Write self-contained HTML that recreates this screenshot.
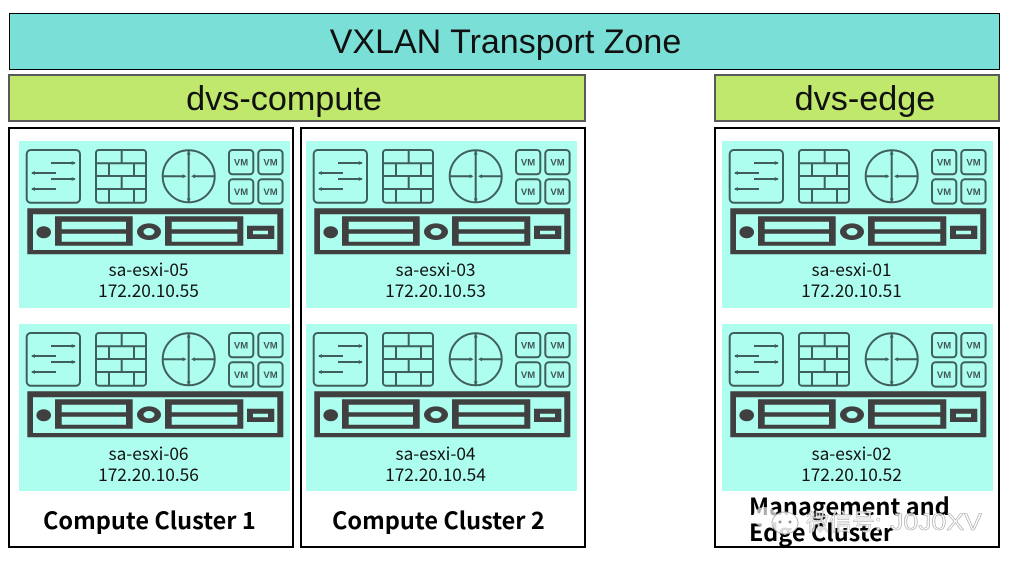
<!DOCTYPE html>
<html><head><meta charset="utf-8">
<style>
html,body{margin:0;padding:0;background:#fff;width:1013px;height:565px;overflow:hidden}
svg{display:block}
.t{font-family:"Noto Sans CJK SC","Liberation Sans",sans-serif;font-size:17.3px;fill:#111;text-anchor:middle}
.h{font-family:"Liberation Sans",sans-serif;fill:#111;text-anchor:middle}
.b{font-family:"Noto Sans CJK SC","Liberation Sans",sans-serif;font-weight:700;font-size:23.5px;fill:#000}
.v{font-family:"Liberation Sans",sans-serif;font-weight:700;font-size:9.5px;fill:#3f5757;text-anchor:middle}
</style></head><body>
<svg width="1013" height="565" viewBox="0 0 1013 565" xmlns="http://www.w3.org/2000/svg">
<defs>
<symbol id="host" width="290" height="310" viewBox="0 0 290 310" overflow="visible">
<rect x="19" y="141" width="271" height="167" fill="#aefeef"/>
<g fill="none" stroke="#3f5f5c" stroke-width="2">
<rect x="26.7" y="150" width="53.3" height="52.7" rx="4"/>
<path d="M51 163H75M32 173H56M51 179H75M32 189H56"/>
<rect x="96" y="150" width="50" height="52.7" rx="3"/>
<path d="M96 163.3H146M96 176H146M96 189H146M121.7 150V163.3M109 163.3V176M134 163.3V176M121.7 176V189M109 189V202.7M134 189V202.7"/>
<circle cx="188.7" cy="176.3" r="26"/>
<path d="M188.7 151V202M163 176.3H185M214 176.3H193"/>
<rect x="229" y="150" width="24.3" height="24.3" rx="3.5"/>
<rect x="258.3" y="150" width="24.3" height="24.3" rx="3.5"/>
<rect x="229" y="179.3" width="24.3" height="24.3" rx="3.5"/>
<rect x="258.3" y="179.3" width="24.3" height="24.3" rx="3.5"/>
</g>
<g fill="#3f5f5c">
<path d="M75.7 163l-4-2v4zM31 173l4-2v4zM75.7 179l-4-2v4zM31 189l4-2v4z"/>
<path d="M188.7 150.5l-2 4h4zM188.7 202.5l-2-4h4zM186.5 176.3l-4-2v4zM191 176.3l4-2v4z"/>
</g>
<path fill="#404040" fill-rule="evenodd" d="M27.3 208.3H283.3V254.3H27.3ZM33 214.3V250H277.3V214.3Z"/>
<ellipse cx="43.7" cy="232.3" rx="7.3" ry="6" fill="#404040"/>
<path fill="#404040" fill-rule="evenodd" d="M55 216.3H132.7V245.7H55ZM61.7 221.7V229.3H126V221.7ZM61.7 233.7V241.7H126V233.7Z"/>
<ellipse cx="149" cy="231.7" rx="12" ry="8.3" fill="#404040"/>
<ellipse cx="149" cy="231.7" rx="5.5" ry="3.7" fill="#aefeef"/>
<path fill="#404040" fill-rule="evenodd" d="M165 216.3H243.3V245.7H165ZM171.7 221.7V229.3H237.3V221.7ZM171.7 233.7V241.7H237.3V233.7Z"/>
<path fill="#404040" fill-rule="evenodd" d="M247 225.7H274.3V239H247ZM253 230.7V234.3H268V230.7Z"/>
</symbol>
</defs>

<rect x="9.5" y="13.5" width="990" height="56" fill="#7adfd6" stroke="#000" stroke-width="1"/>
<text class="h" x="505.5" y="53" font-size="34">VXLAN Transport Zone</text>

<rect x="9" y="75" width="576" height="46" fill="#c0e86c" stroke="#595959" stroke-width="2"/>
<text class="h" x="284" y="110" font-size="34.2">dvs-compute</text>
<rect x="715" y="75" width="284" height="46" fill="#c0e86c" stroke="#595959" stroke-width="2"/>
<text class="h" x="865" y="110" font-size="34.2">dvs-edge</text>

<rect x="9" y="128" width="284" height="419" fill="#fff" stroke="#000" stroke-width="2"/>
<rect x="301" y="128" width="284" height="419" fill="#fff" stroke="#000" stroke-width="2"/>
<rect x="715" y="128" width="284" height="419" fill="#fff" stroke="#000" stroke-width="2"/>

<use href="#host" x="0" y="0" width="290" height="310"/>
<use href="#host" x="287" y="0" width="290" height="310"/>
<use href="#host" x="703" y="0" width="290" height="310"/>
<use href="#host" x="0" y="183" width="290" height="310"/>
<use href="#host" x="287" y="183" width="290" height="310"/>
<use href="#host" x="703" y="183" width="290" height="310"/>

<g>
<text class="v" x="241" y="165.5">VM</text><text class="v" x="270.5" y="165.5">VM</text><text class="v" x="241" y="195">VM</text><text class="v" x="270.5" y="195">VM</text>
<text class="v" x="528" y="165.5">VM</text><text class="v" x="557.5" y="165.5">VM</text><text class="v" x="528" y="195">VM</text><text class="v" x="557.5" y="195">VM</text>
<text class="v" x="944" y="165.5">VM</text><text class="v" x="973.5" y="165.5">VM</text><text class="v" x="944" y="195">VM</text><text class="v" x="973.5" y="195">VM</text>
<text class="v" x="241" y="348.5">VM</text><text class="v" x="270.5" y="348.5">VM</text><text class="v" x="241" y="378">VM</text><text class="v" x="270.5" y="378">VM</text>
<text class="v" x="528" y="348.5">VM</text><text class="v" x="557.5" y="348.5">VM</text><text class="v" x="528" y="378">VM</text><text class="v" x="557.5" y="378">VM</text>
<text class="v" x="944" y="348.5">VM</text><text class="v" x="973.5" y="348.5">VM</text><text class="v" x="944" y="378">VM</text><text class="v" x="973.5" y="378">VM</text>
</g>

<text class="t" x="148.5" y="276">sa-esxi-05</text><text class="t" x="148.5" y="297">172.20.10.55</text>
<text class="t" x="435.5" y="276">sa-esxi-03</text><text class="t" x="435.5" y="297">172.20.10.53</text>
<text class="t" x="851.5" y="276">sa-esxi-01</text><text class="t" x="851.5" y="297">172.20.10.51</text>
<text class="t" x="148.5" y="460">sa-esxi-06</text><text class="t" x="148.5" y="481">172.20.10.56</text>
<text class="t" x="435.5" y="460">sa-esxi-04</text><text class="t" x="435.5" y="481">172.20.10.54</text>
<text class="t" x="851.5" y="460">sa-esxi-02</text><text class="t" x="851.5" y="481">172.20.10.52</text>

<text class="b" x="43" y="529">Compute Cluster 1</text>
<text class="b" x="332" y="529">Compute Cluster 2</text>
<text class="b" x="749" y="515">Management and</text>
<text class="b" x="749" y="541">Edge Cluster</text>

<g opacity="0.85">
<ellipse cx="765" cy="517" rx="12" ry="10" fill="#fff" opacity="0.8"/>
<ellipse cx="785" cy="523" rx="13" ry="11" fill="#fff" stroke="#aaa" stroke-width="1"/>
<circle cx="780" cy="522" r="1.5" fill="#888"/><circle cx="790" cy="522" r="1.5" fill="#888"/>
<text x="806" y="530" font-family="'Noto Sans CJK SC',sans-serif" font-size="23" fill="#fff" stroke="#aaa" stroke-width="0.6">微信号:</text>
<text x="890" y="530" font-family="'Liberation Sans',sans-serif" font-size="24" fill="#fff" stroke="#999" stroke-width="0.6" textLength="92" lengthAdjust="spacingAndGlyphs">J0J0XV</text>
</g>
</svg>
</body></html>
